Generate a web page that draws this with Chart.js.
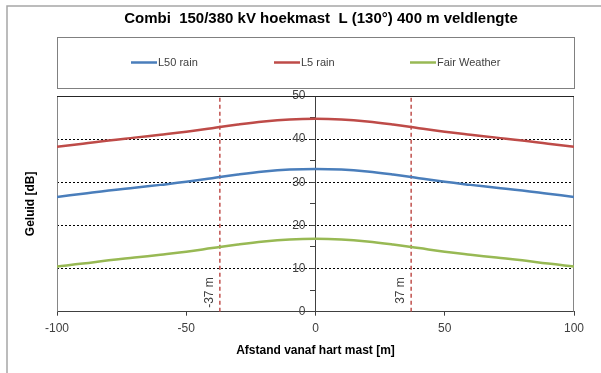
<!DOCTYPE html>
<html><head><meta charset="utf-8">
<script src="https://cdn.jsdelivr.net/npm/chart.js@4/dist/chart.umd.min.js"></script>
<style>html,body{margin:0;padding:0;background:#fff;}#wrap{width:601px;height:373px;}</style>
</head><body><div id="wrap"><canvas id="c" width="601" height="373"></canvas></div>
<script>
// ---- data ----
const chartTitle = 'Combi  150/380 kV hoekmast  L (130°) 400 m veldlengte';
const xTitle = 'Afstand vanaf hart mast [m]';
const yTitle = 'Geluid [dB]';
const distances = [-100,-90,-80,-70,-60,-50,-40,-30,-20,-10,0,10,20,30,40,50,60,70,80,90,100];
const l50Rain = [26.6,27.35,28.1,28.75,29.4,30.1,30.95,31.8,32.5,32.95,33.1,32.95,32.5,31.8,30.95,30.1,29.4,28.75,28.1,27.35,26.6];
const l5Rain  = [38.25,38.95,39.7,40.35,41.0,41.7,42.55,43.4,44.1,44.55,44.7,44.55,44.1,43.4,42.55,41.7,41.0,40.35,39.7,38.95,38.25];
const fairWeather = [10.5,11.15,11.9,12.55,13.2,13.9,14.75,15.6,16.3,16.75,16.9,16.75,16.3,15.6,14.75,13.9,13.2,12.55,11.9,11.15,10.5];
const seriesNames = ['L50 rain','L5 rain','Fair Weather'];
const markerPositions = [-37, 37];
const markerLabels = ['-37 m', '37 m'];
const xTicks = {min:-100, max:100, step:50};
const yTicks = {min:0, max:50, step:5, labelEvery:10};

const FONT = "'Liberation Sans', Arial, sans-serif";
const colors = ['#4A7EBB', '#BE4B48', '#98B954'];
const pts = arr => distances.map((d,i) => ({x:d, y:arr[i]}));

const datasets = [
  {label: seriesNames[0], data: pts(l50Rain), borderColor: colors[0]},
  {label: seriesNames[1], data: pts(l5Rain), borderColor: colors[1]},
  {label: seriesNames[2], data: pts(fairWeather), borderColor: colors[2]},
].map(d => Object.assign(d, {borderWidth: 2.5, pointRadius: 0, fill: false, tension: 0.4, inLegend: true}));
markerPositions.forEach((m) => {
  datasets.push({label: 'marker', data: [{x:m, y:yTicks.min}, {x:m, y:yTicks.max}], borderColor: '#C0504D',
    borderWidth: 1.5, borderDash: [4,3], pointRadius: 0, fill: false, inLegend: false});
});

const decor = {
  id: 'decor',
  beforeDraw(chart) {
    const ctx = chart.ctx;
    ctx.save();
    ctx.fillStyle = '#fff';
    ctx.fillRect(0, 0, chart.width, chart.height);
    // outer frame
    ctx.strokeStyle = '#A6A6A6';
    ctx.lineWidth = 1.5;
    ctx.beginPath();
    ctx.moveTo(7, chart.height); ctx.lineTo(7, 6); ctx.lineTo(chart.width, 6);
    ctx.stroke();
    // title
    ctx.fillStyle = '#000';
    ctx.font = 'bold 15px ' + FONT;
    ctx.textAlign = 'center'; ctx.textBaseline = 'middle';
    ctx.fillText(chartTitle, 321, 19);
    // legend box
    const ca = chart.chartArea;
    ctx.strokeStyle = '#808080'; ctx.lineWidth = 1;
    ctx.strokeRect(Math.round(ca.left)+0.5, 37.5, Math.round(ca.right - ca.left), 51);
    const itemX = [131, 274, 410];
    let k = 0;
    chart.data.datasets.forEach(ds => {
      if (!ds.inLegend) return;
      const x = itemX[k++];
      ctx.strokeStyle = ds.borderColor; ctx.lineWidth = 2.5;
      ctx.beginPath(); ctx.moveTo(x, 62.5); ctx.lineTo(x + 26, 62.5); ctx.stroke();
      ctx.fillStyle = '#404040'; ctx.font = '11px ' + FONT;
      ctx.textAlign = 'left'; ctx.textBaseline = 'middle';
      ctx.fillText(ds.label, x + 27, 62.5);
    });
    // y title
    ctx.save();
    ctx.translate(31, (ca.top + ca.bottom) / 2);
    ctx.rotate(-Math.PI / 2);
    ctx.fillStyle = '#000'; ctx.font = 'bold 12px ' + FONT;
    ctx.textAlign = 'center'; ctx.textBaseline = 'middle';
    ctx.fillText(yTitle, 0, 0);
    ctx.restore();
    ctx.restore();
  },
  beforeDatasetsDraw(chart) {
    const ctx = chart.ctx, ca = chart.chartArea;
    ctx.save();
    ctx.lineWidth = 1;
    ctx.strokeStyle = '#868686';
    ctx.beginPath();
    ctx.moveTo(ca.left + 0.5, ca.top); ctx.lineTo(ca.left + 0.5, ca.bottom);
    ctx.moveTo(ca.right - 0.5, ca.top); ctx.lineTo(ca.right - 0.5, ca.bottom);
    ctx.stroke();
    ctx.strokeStyle = '#262626';
    ctx.beginPath();
    ctx.moveTo(ca.left, ca.top + 0.5); ctx.lineTo(ca.right, ca.top + 0.5);
    ctx.stroke();
    ctx.restore();
  },
  afterDatasetsDraw(chart) {
    const ctx = chart.ctx, xs = chart.scales.x, ys = chart.scales.y;
    ctx.save();
    ctx.fillStyle = '#404040'; ctx.font = '12px ' + FONT;
    ctx.textAlign = 'right'; ctx.textBaseline = 'middle';
    markerPositions.forEach((m, i) => {
      ctx.save();
      ctx.translate(xs.getPixelForValue(m) - 10, ys.getPixelForValue(8) );
      ctx.rotate(-Math.PI / 2);
      ctx.fillText(markerLabels[i], 0, 0);
      ctx.restore();
    });
    ctx.restore();
  }
};

new Chart(document.getElementById('c'), {
  type: 'line',
  data: {datasets},
  options: {
    responsive: false,
    animation: false,
    devicePixelRatio: 1,
    layout: {padding: {left: 57, right: 27, top: 96, bottom: 11}},
    plugins: {legend: {display: false}, title: {display: false}, tooltip: {enabled: false}},
    scales: {
      x: {
        type: 'linear', min: xTicks.min, max: xTicks.max,
        ticks: {stepSize: xTicks.step, color: '#404040', font: {family: FONT, size: 12}, padding: 6, maxRotation: 0},
        grid: {drawOnChartArea: false, drawTicks: true, tickLength: 4, tickColor: '#404040'},
        border: {display: true, color: '#404040', width: 1},
        title: {display: true, text: xTitle, color: '#000', font: {family: FONT, size: 12, weight: 'bold'}, padding: {top: 1.5, bottom: 4}}
      },
      y: {
        type: 'linear', min: yTicks.min, max: yTicks.max,
        position: {x: 0},
        ticks: {stepSize: yTicks.step, color: '#404040', font: {family: FONT, size: 12}, padding: 8,
          callback: v => (v % yTicks.labelEvery === 0 ? String(v) + '\u00A0\u00A0\u00A0' : '')},
        grid: {
          drawTicks: true, tickLength: 5,
          color: c => (c.tick && c.tick.value % 10 === 0 && c.tick.value > yTicks.min && c.tick.value < yTicks.max) ? '#000' : 'rgba(0,0,0,0)',
          tickColor: '#404040',
          lineWidth: 1
        },
        border: {display: true, color: '#404040', width: 1, dash: [2,2]},
      }
    }
  },
  plugins: [decor]
});
</script></body></html>
